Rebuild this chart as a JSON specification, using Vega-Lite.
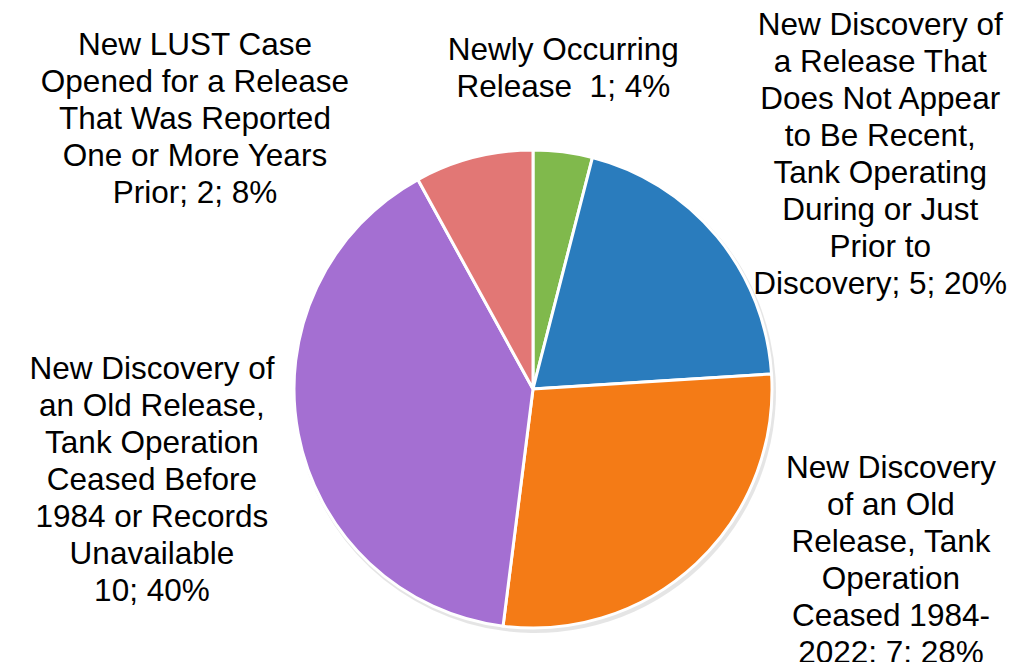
{
  "$schema": "https://vega.github.io/schema/vega-lite/v6.json",
  "width": 486,
  "height": 486,
  "autosize": {"type": "none"},
  "padding": {"left": 290, "top": 146, "right": 244, "bottom": 30},
  "background": "white",
  "config": {"view": {"stroke": null}, "text": {"font": "Liberation Sans"}},
  "data": {
    "values": [
      {"category": "Newly Occurring Release", "count": 1, "rank": 1, "label": "Newly Occurring\nRelease\u00a0 1; 4%"},
      {"category": "Release Not Recent, Tank Operating", "count": 5, "rank": 2, "label": "New Discovery of\na Release That\nDoes Not Appear\nto Be Recent,\nTank Operating\nDuring or Just\nPrior to\nDiscovery; 5; 20%"},
      {"category": "Old Release, Ceased 1984-2022", "count": 7, "rank": 3, "label": "New Discovery\nof an Old\nRelease, Tank\nOperation\nCeased 1984-\n2022; 7; 28%"},
      {"category": "Old Release, Ceased Before 1984", "count": 10, "rank": 4, "label": "New Discovery of\nan Old Release,\nTank Operation\nCeased Before\n1984 or Records\nUnavailable\u2002\u2002\u2002\n10; 40%"},
      {"category": "New LUST Case, Reported Prior", "count": 2, "rank": 5, "label": "New LUST Case\nOpened for a Release\nThat Was Reported\nOne or More Years\nPrior; 2; 8%"}
    ]
  },
  "encoding": {
    "theta": {"field": "count", "type": "quantitative", "stack": true},
    "order": {"field": "rank", "type": "ordinal"}
  },
  "layer": [
    {
      "mark": {"type": "arc", "radius": 241, "xOffset": 2, "yOffset": 3, "fill": "#000000", "opacity": 0.1, "stroke": null}
    },
    {
      "mark": {"type": "arc", "radius": 239, "stroke": "white", "strokeWidth": 3},
      "encoding": {
        "color": {
          "field": "category",
          "type": "nominal",
          "legend": null,
          "scale": {
            "domain": ["Newly Occurring Release", "Release Not Recent, Tank Operating", "Old Release, Ceased 1984-2022", "Old Release, Ceased Before 1984", "New LUST Case, Reported Prior"],
            "range": ["#80b94c", "#2a7cbd", "#f47b16", "#a46fd2", "#e27775"]
          }
        }
      }
    },
    {
      "mark": {"type": "text", "radius": 322, "dx": -10, "dy": -19, "fontSize": 31.5, "lineHeight": 37, "lineBreak": "\n", "align": "center", "baseline": "middle", "fill": "#000000"},
      "encoding": {"text": {"condition": {"test": "datum.rank === 1", "field": "label"}, "value": ""}}
    },
    {
      "mark": {"type": "text", "radius": 400, "dx": 39, "dy": -108, "fontSize": 31.5, "lineHeight": 37, "lineBreak": "\n", "align": "center", "baseline": "middle", "fill": "#000000"},
      "encoding": {"text": {"condition": {"test": "datum.rank === 2", "field": "label"}, "value": ""}}
    },
    {
      "mark": {"type": "text", "radius": 390, "dx": 91, "dy": -204, "fontSize": 31.5, "lineHeight": 37, "lineBreak": "\n", "align": "center", "baseline": "middle", "fill": "#000000"},
      "encoding": {"text": {"condition": {"test": "datum.rank === 3", "field": "label"}, "value": ""}}
    },
    {
      "mark": {"type": "text", "radius": 390, "dx": 2, "dy": -92, "fontSize": 31.5, "lineHeight": 37, "lineBreak": "\n", "align": "center", "baseline": "middle", "fill": "#000000"},
      "encoding": {"text": {"condition": {"test": "datum.rank === 4", "field": "label"}, "value": ""}}
    },
    {
      "mark": {"type": "text", "radius": 330, "dx": -256, "dy": -23, "fontSize": 31.5, "lineHeight": 37, "lineBreak": "\n", "align": "center", "baseline": "middle", "fill": "#000000"},
      "encoding": {"text": {"condition": {"test": "datum.rank === 5", "field": "label"}, "value": ""}}
    }
  ]
}
